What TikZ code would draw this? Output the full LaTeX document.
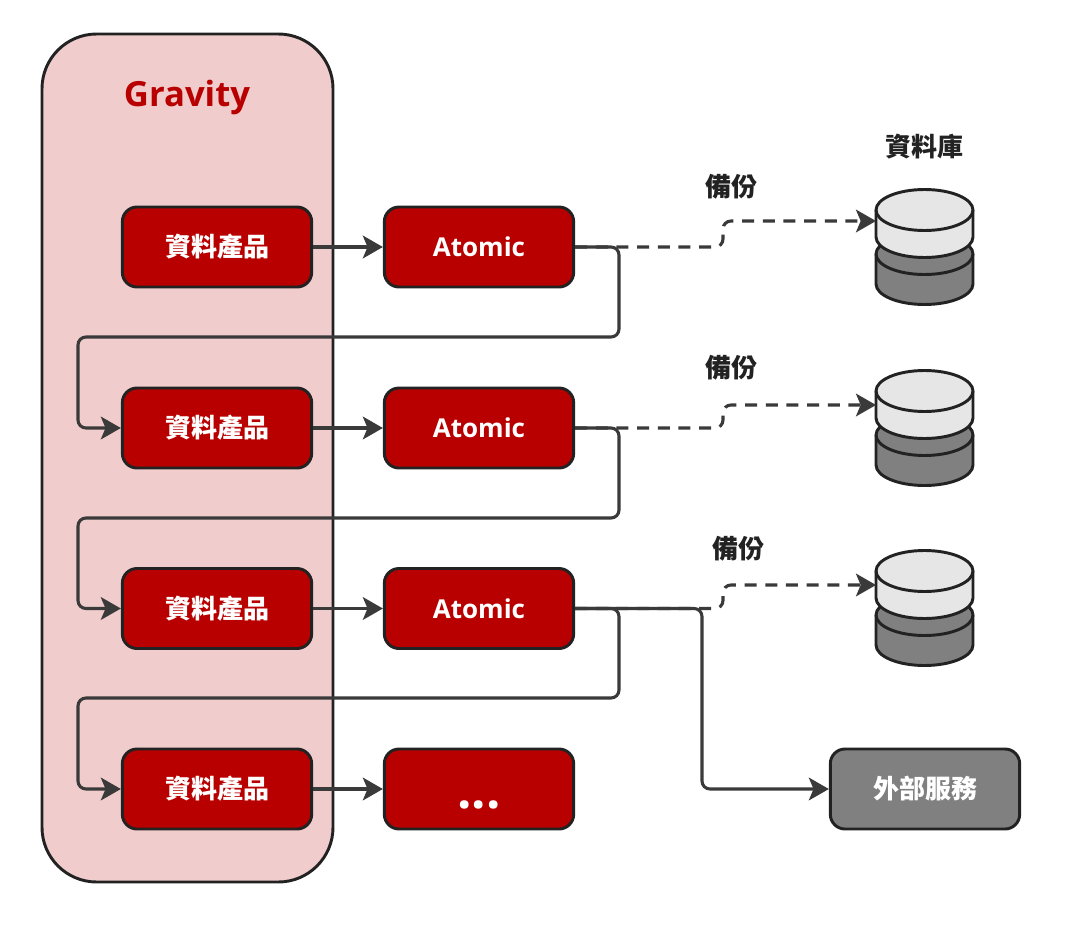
\documentclass[tikz,border=0pt]{standalone}
\usepackage{fontspec}
\usetikzlibrary{arrows.meta}
\setmainfont{Open Sans}
\newfontfamily\cjkfont{Noto Sans CJK TC}
\definecolor{gravred}{HTML}{B80000}
\definecolor{gravpink}{HTML}{F1CCCC}
\definecolor{inkdark}{HTML}{222222}
\definecolor{linkgray}{HTML}{3A3A3A}
\definecolor{dblight}{HTML}{E6E6E6}
\definecolor{dbdark}{HTML}{808080}
\tikzset{
	redbox/.style={draw=inkdark,line width=2.2pt,fill=gravred,rounded corners=11pt,minimum width=142pt,minimum height=60pt,text=white,font=\bfseries\fontsize{19.5}{22}\selectfont,inner sep=0pt},
	graybox/.style={redbox,fill=dbdark},
	toplabel/.style={inner sep=0pt,text=inkdark,font=\cjkfont\bfseries\fontsize{19.5}{22}\selectfont},
	link/.style={draw=linkgray,line width=2.3pt,rounded corners=6pt,-{Stealth[length=15pt,width=17pt,inset=3.5pt]}},
	backup/.style={link,dashed,dash pattern=on 9pt off 6.5pt},
	dbstack/.pic={
		\draw[line width=2.2pt,draw=inkdark,fill=dbdark] (-48.5,254) -- (-48.5,284) arc (180:0:48.5 and 20.5) -- (48.5,254) arc (0:-180:48.5 and 20.5) -- cycle;
		\draw[line width=2.2pt,draw=inkdark] (-48.5,254) arc (180:0:48.5 and 20.5);
		\draw[line width=2.2pt,draw=inkdark,fill=dblight] (-48.5,210) -- (-48.5,237) arc (180:0:48.5 and 20.5) -- (48.5,210) arc (0:-180:48.5 and 20.5) -- cycle;
		\draw[line width=2.2pt,draw=inkdark] (-48.5,210) arc (180:0:48.5 and 20.5);
	}
}
\begin{document}
\begin{tikzpicture}[x=0.75pt,y=-0.75pt]
	\useasboundingbox (0,0) rectangle (1072,932);
	\fill[white] (0,0) rectangle (1072,932);
	\draw[line width=2.2pt,draw=inkdark,fill=gravpink,rounded corners=41pt] (42,34) rectangle (333,882);
	\node[inner sep=0pt,text=gravred,font=\bfseries\fontsize{26}{30}\selectfont] (gravity) at (187,97) {Gravity};
	% products
	\node[redbox] (prod1) at (217,247) {\cjkfont 資料產品};
	\node[redbox] (prod2) at (217,428) {\cjkfont 資料產品};
	\node[redbox] (prod3) at (217,608.5) {\cjkfont 資料產品};
	\node[redbox] (prod4) at (217,789) {\cjkfont 資料產品};
	\node[redbox] (atom1) at (479,247) {Atomic};
	\node[redbox] (atom2) at (479,428) {Atomic};
	\node[redbox] (atom3) at (479,608.5) {Atomic};
	\node[redbox] (more) at (479,789) {};
	\node[inner sep=0pt,text=white,font=\bfseries\fontsize{38}{40}\selectfont] (dots) at (479,805) {...};
	\node[graybox] (extern) at (925,789) {\cjkfont 外部服務};
	% databases
	\pic at (924.5,0) {dbstack};
	\pic at (924.5,181) {dbstack};
	\pic at (924.5,361) {dbstack};
	\coordinate (db1) at (876,221);
	\coordinate (db2) at (876,405);
	\coordinate (db3) at (876,585);
	\node[toplabel] (dbtitle) at (924,147) {資料庫};
	\node[toplabel] (bak1) at (731,187) {備份};
	\node[toplabel] (bak2) at (731,368) {備份};
	\node[toplabel] (bak3) at (738,549) {備份};
	% connectors
	\draw[backup] (atom1.east) -- (723,247) -- (723,221) -- (db1);
	\draw[backup] (atom2.east) -- (723,428) -- (723,405) -- (db2);
	\draw[backup] (atom3.east) -- (723,608.5) -- (723,585) -- (db3);
	\draw[link] (prod1) -- (atom1);
	\draw[link] (prod2) -- (atom2);
	\draw[link] (prod3) -- (atom3);
	\draw[link] (prod4) -- (more);
	\draw[link] (atom1.east) -- (619,247) -- (619,337) -- (78,337) -- (78,428) -- (prod2.west);
	\draw[link] (atom2.east) -- (619,428) -- (619,518) -- (78,518) -- (78,608.5) -- (prod3.west);
	\draw[link] (atom3.east) -- (619,608.5) -- (619,698) -- (78,698) -- (78,789) -- (prod4.west);
	\draw[link] (atom3.east) -- (702,608.5) -- (702,789) -- (extern.west);
\end{tikzpicture}
\end{document}
